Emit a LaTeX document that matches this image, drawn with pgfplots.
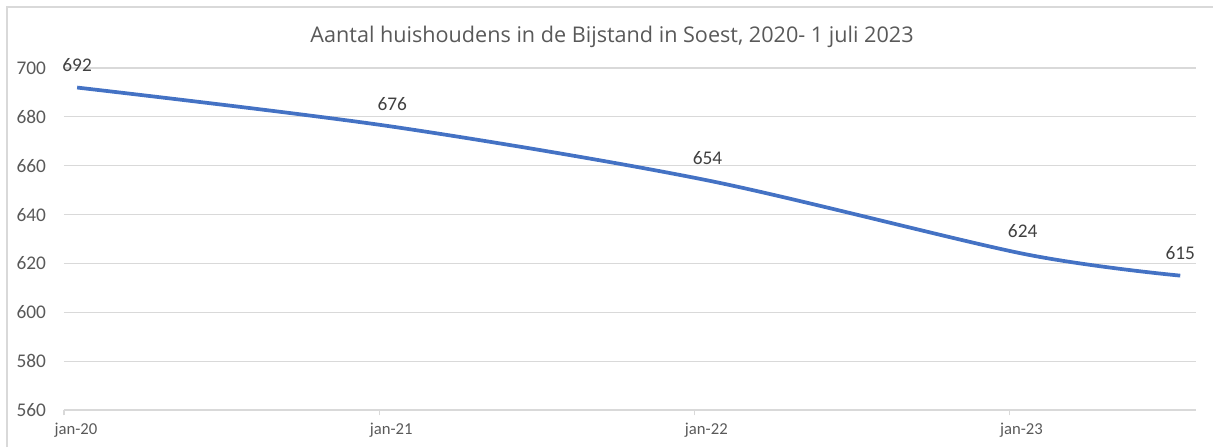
\documentclass[border=0pt]{standalone}
\usepackage{pgfplots}
\pgfplotsset{compat=1.18}
\usepackage{fontspec}
\setmainfont{Carlito}
\newfontfamily\titlefont{Open Sans}
\definecolor{lineblue}{HTML}{4472C4}
\definecolor{gridgray}{HTML}{D9D9D9}
\definecolor{txtgray}{HTML}{595959}
\definecolor{lblgray}{HTML}{404040}
\begin{document}
\begin{tikzpicture}
\path[use as bounding box] (0,0) rectangle (909.75pt,335.25pt);
\draw[gridgray, line width=0.9pt] (5.25pt,0) -- (5.25pt,330pt) -- (909.75pt,330pt);
\node[txtgray, font=\titlefont\fontsize{16.2}{19}\selectfont] at (459pt,307.5pt) {Aantal huishoudens in de Bijstand in Soest, 2020- 1 juli 2023};
\begin{axis}[
  at={(48pt,27.75pt)}, anchor=south west,
  scale only axis, width=849pt, height=256.5pt,
  xmin=-0.5, xmax=42.6, ymin=560, ymax=700,
  ytick={560,580,...,700},
  xtick={-0.5,11.5,23.5,35.5},
  xticklabels={jan-20,jan-21,jan-22,jan-23},
  x tick label style={font=\fontsize{12.5}{14}\selectfont, text=txtgray, xshift=9pt, yshift=-2pt},
  y tick label style={font=\fontsize{14.5}{16}\selectfont, text=txtgray, xshift=-6pt},
  /pgf/number format/assume math mode=true,
  ymajorgrids, grid style={gridgray, line width=0.9pt},
  axis x line*=bottom, axis y line*=left,
  y axis line style={draw=none},
  x axis line style={gridgray, line width=0.9pt, -},
  xtick style={gridgray, line width=0.9pt},
  ytick style={draw=none},
  xtick pos=bottom, tick align=outside, major tick length=4pt,
  clip=false,
  nodes near coords,
  every node near coord/.style={font=\fontsize{14.5}{16}\selectfont, text=lblgray, anchor=south, yshift=7pt},
]
\addplot[lineblue, line width=2.8pt, smooth, tension=0.5, mark=none] coordinates {
(0,692) (12,676) (24,654) (36,624) (42,615)
};
\end{axis}
\end{tikzpicture}
\end{document}
